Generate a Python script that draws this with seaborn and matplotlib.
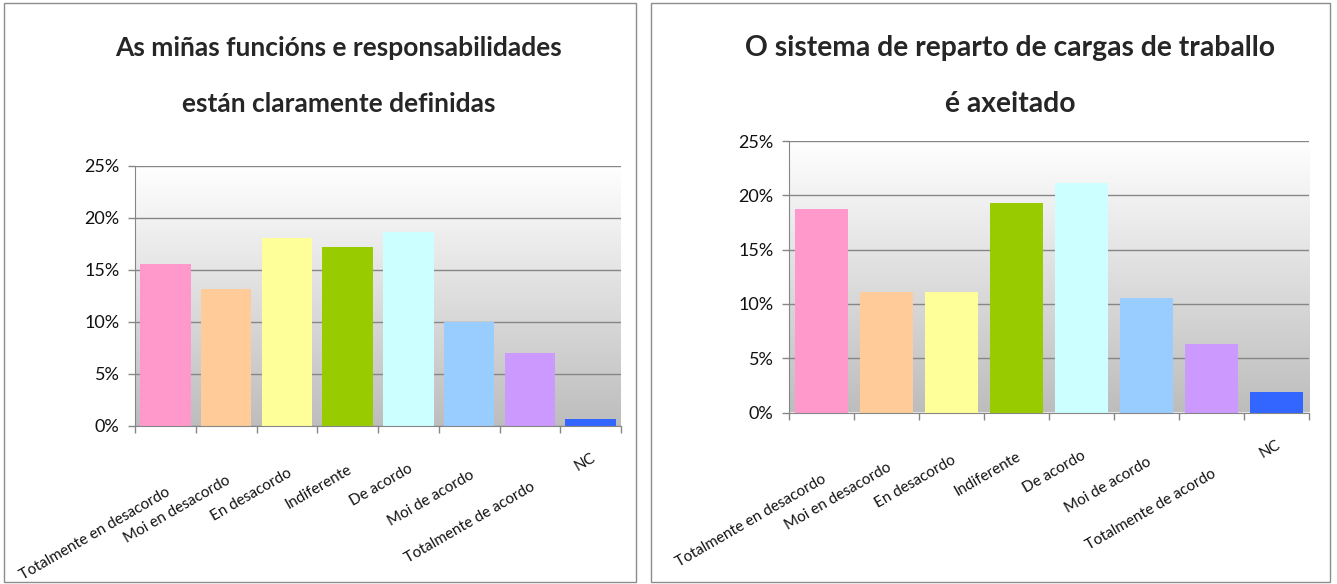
import matplotlib
matplotlib.use("Agg")
import matplotlib.pyplot as plt
import matplotlib.transforms as mtransforms
from matplotlib.colors import LinearSegmentedColormap
from matplotlib.font_manager import FontProperties
from matplotlib.patches import Rectangle
import numpy as np
import seaborn as sns

# survey answers, share of respondents in %
categories = ["Totalmente en desacordo", "Moi en desacordo", "En desacordo",
              "Indiferente", "De acordo", "Moi de acordo",
              "Totalmente de acordo", "NC"]
roles_values = [15.5, 13.1, 18.0, 17.2, 18.6, 10.0, 6.95, 0.6]
workload_values = [18.7, 11.1, 11.1, 19.3, 21.1, 10.5, 6.3, 1.9]
roles_title = "As miñas funcións e responsabilidades\nestán claramente definidas"
workload_title = "O sistema de reparto de cargas de traballo\né axeitado"
colors = ["#FF99CC", "#FFCC99", "#FFFF99", "#99CC00",
          "#CCFFFF", "#99CCFF", "#CC99FF", "#3366FF"]
yticks = [0, 5, 10, 15, 20, 25]

sns.set_style("white")
plt.rcParams["font.family"] = ["Lato", "DejaVu Sans"]

W, H = 1337, 584
fig = plt.figure(figsize=(W / 100, H / 100), dpi=100)
bg = LinearSegmentedColormap.from_list("bg", ["#bdbdbd", "#ffffff"])
grey = "#868686"
label_font = FontProperties(family=["Lato", "DejaVu Sans"], size=11)


def add_panel(values, title, box, area, title_x, title_size):
    x0, x1 = box
    fig.add_artist(Rectangle((x0 / W, 2 / H), (x1 - x0) / W, 579 / H,
                             transform=fig.transFigure, fill=False,
                             ec="#8c8c8c", lw=1))
    fig.text(title_x / W, 1 - 76 / H, title, ha="center", va="center",
             fontsize=title_size, fontweight="bold",
             linespacing=2.5 * 58 / (53 * title_size / 17.8))

    ax0, ax1, top, bottom = area
    ax = fig.add_axes([ax0 / W, 1 - bottom / H, (ax1 - ax0) / W, (bottom - top) / H])
    sns.barplot(x=categories, y=values, hue=categories, palette=colors,
                legend=False, saturation=1, width=0.83, ax=ax, zorder=2,
                edgecolor="none", linewidth=0)
    ax.imshow(np.linspace(0, 1, 256)[:, None], cmap=bg, origin="lower",
              extent=[0, 1, 0, 1], transform=ax.transAxes, aspect="auto", zorder=0)
    ax.set_xlim(-0.5, len(categories) - 0.5)
    ax.set_ylim(0, 25)
    ax.set_yticks(yticks)
    ax.set_yticklabels([f"{v}%" for v in yticks], fontsize=13, color="#111111")
    ax.set_xticks(np.arange(-0.5, len(categories), 1))
    ax.set_xticklabels([])
    ax.set_xlabel("")
    ax.set_ylabel("")
    ax.yaxis.grid(True, color=grey, lw=1)
    ax.set_axisbelow(True)
    ax.tick_params(axis="both", direction="out", length=5, width=1,
                   color=grey, bottom=True, left=True, pad=6)
    for side in ["left", "bottom"]:
        ax.spines[side].set_color(grey)
    ax.spines["top"].set_visible(False)
    ax.spines["right"].set_visible(False)

    # Excel-like slanted labels: longer labels sit a little lower
    renderer = fig.canvas.get_renderer()
    for i, lab in enumerate(categories):
        w, h, d = renderer.get_text_width_height_descent(lab, label_font, ismath=False)
        tr = mtransforms.offset_copy(ax.get_xaxis_transform(), fig=fig,
                                     x=0, y=-(20 + 0.23 * w), units="dots")
        ax.text(i, 0, lab, transform=tr, rotation=30, rotation_mode="anchor",
                ha="right", va="top", fontproperties=label_font, color="#111111")
    return ax


add_panel(roles_values, roles_title, (4, 636), (135, 621, 165.5, 425.5), 339, 19)
add_panel(workload_values, workload_title, (651, 1330), (789, 1309, 141, 412.5), 1010, 20.3)

fig.savefig("out.png", dpi=100)
